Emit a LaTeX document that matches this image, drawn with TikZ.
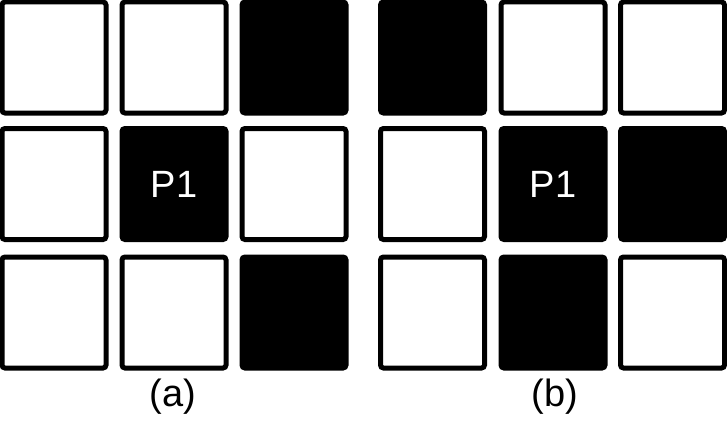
\documentclass[tikz,border=0pt]{standalone}
\usepackage{fontspec}
\setmainfont{Liberation Sans}
\begin{document}
\begin{tikzpicture}[x=1pt,y=-1pt]
\tikzset{cell/.style={draw, line width=5pt, rounded corners=3pt, minimum width=104pt, minimum height=111pt, inner sep=0pt, fill=white},
blk/.style={cell, fill=black, text=white, font=\fontsize{38}{40}\selectfont},
sublabel/.style={font=\fontsize{38}{40}\selectfont, inner sep=0pt}}
\useasboundingbox (0,0) rectangle (727,420);
\node[cell] (a1) at (54,57.5) {};
\node[cell] (a2) at (174,57.5) {};
\node[blk] (a3) at (294,57.5) {};
\node[cell] (a4) at (54,184) {};
\node[blk] (a5) at (174,184) {P1};
\node[cell] (a6) at (294,184) {};
\node[cell] (a7) at (54,312.5) {};
\node[cell] (a8) at (174,312.5) {};
\node[blk] (a9) at (294,312.5) {};
\node[blk] (b1) at (432.5,57.5) {};
\node[cell] (b2) at (553,57.5) {};
\node[cell] (b3) at (672.5,57.5) {};
\node[cell] (b4) at (432.5,184) {};
\node[blk] (b5) at (553,184) {P1};
\node[blk] (b6) at (672.5,184) {};
\node[cell] (b7) at (432.5,312.5) {};
\node[blk] (b8) at (553,312.5) {};
\node[cell] (b9) at (672.5,312.5) {};
\node[sublabel] (la) at (173,397) {(a)};
\node[sublabel] (lb) at (555,397) {(b)};
\end{tikzpicture}
\end{document}
